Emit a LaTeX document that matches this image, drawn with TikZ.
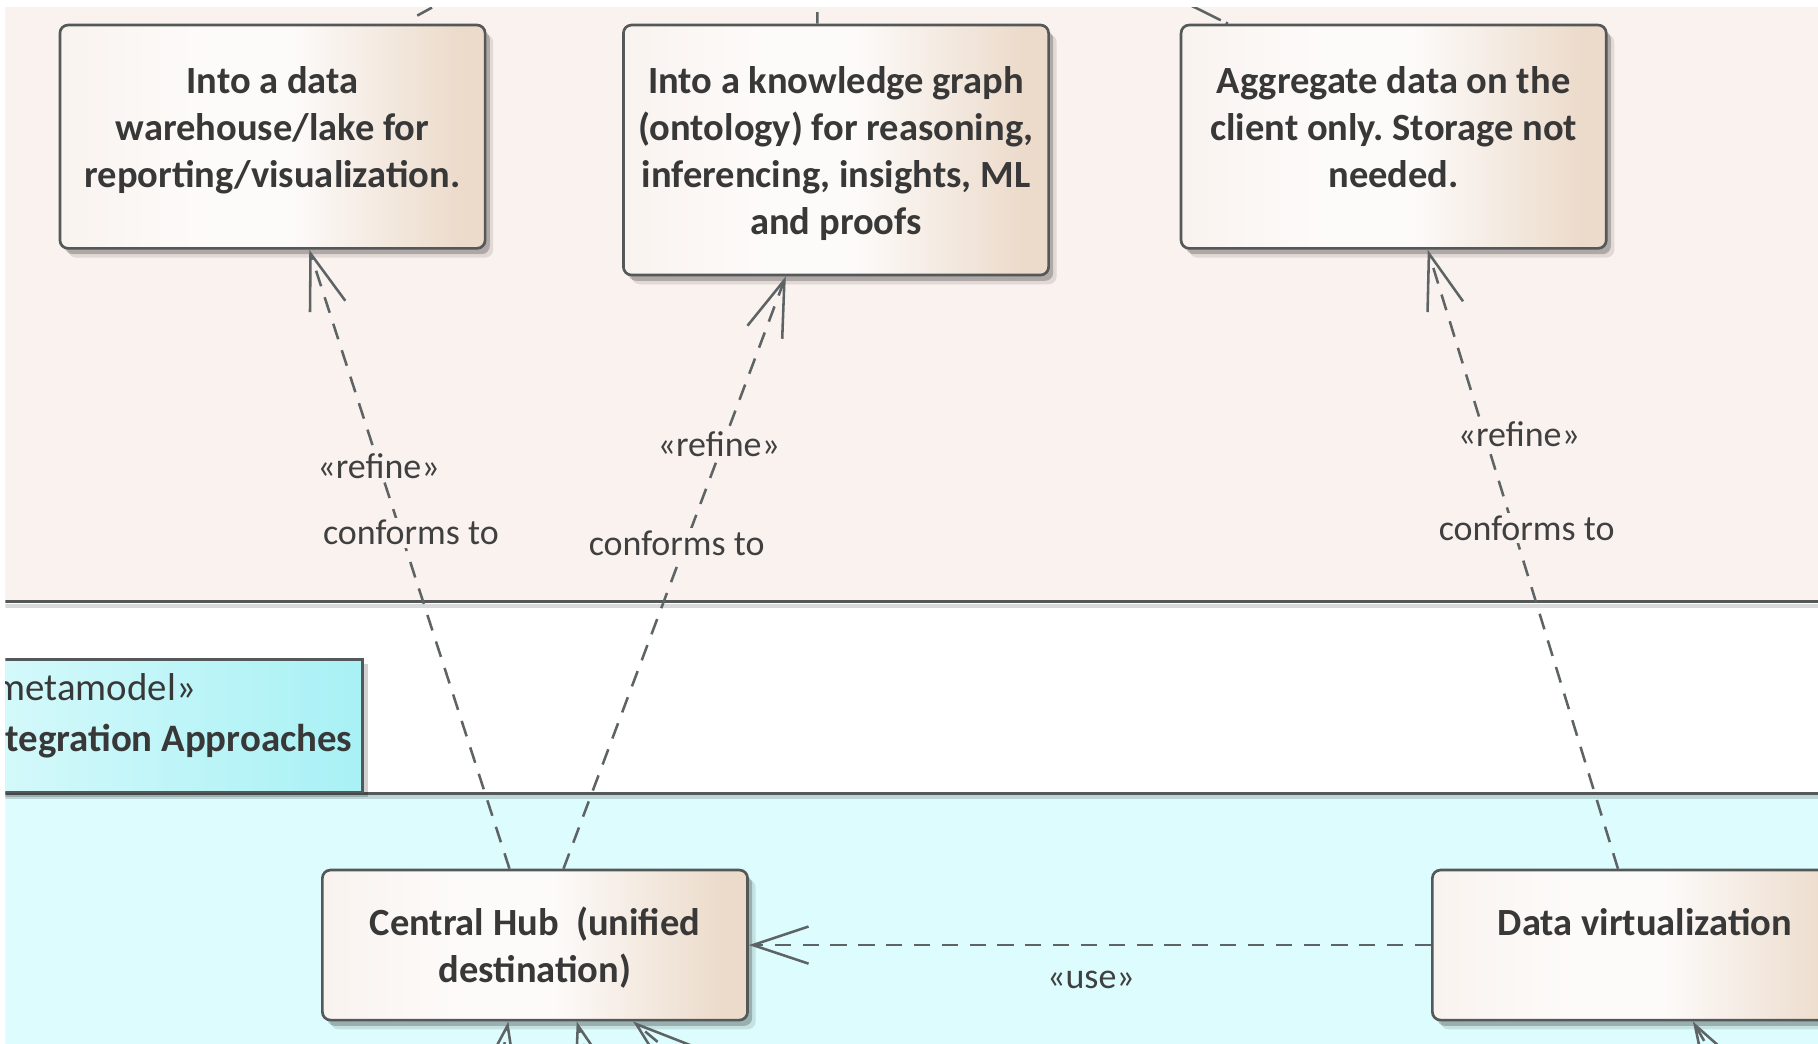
\documentclass[tikz,border=0pt]{standalone}
\usepackage{fontspec}
\setmainfont{Carlito}
\frenchspacing
\usetikzlibrary{arrows.meta,shadows}
\definecolor{pinkbg}{HTML}{FAF2EF}
\definecolor{cyanbg}{HTML}{DCFCFD}
\definecolor{tabL}{HTML}{DAFAFB}
\definecolor{tabR}{HTML}{A8F1F5}
\definecolor{boxL}{HTML}{F9F3EF}
\definecolor{boxM}{HTML}{FDFBFA}
\definecolor{boxR}{HTML}{ECDBCB}
\definecolor{edge}{HTML}{545858}
\definecolor{conn}{HTML}{5E6465}
\definecolor{txt}{HTML}{383838}
\definecolor{lbl}{HTML}{404040}
\pgfdeclarehorizontalshading{boxgrad}{100bp}{color(0bp)=(boxL); color(25bp)=(boxL); color(42bp)=(boxM); color(52bp)=(boxM); color(72bp)=(boxR); color(75bp)=(boxR); color(100bp)=(boxR)}
\pgfdeclarehorizontalshading{tabgrad}{100bp}{color(0bp)=(tabL); color(25bp)=(tabL); color(75bp)=(tabR); color(100bp)=(tabR)}
\begin{document}
\begin{tikzpicture}[x=1pt,y=-1pt,
  box/.style={draw=edge, line width=2.3pt, rounded corners=7pt, shade, shading=boxgrad,
    minimum width=366.7pt, inner sep=0pt,
    drop shadow={shadow xshift=4pt,shadow yshift=-5pt,opacity=0.22,fill=black},
    drop shadow={shadow xshift=7pt,shadow yshift=-8pt,opacity=0.10,fill=black}},
  boxtext/.style={anchor=north, inner sep=0pt, align=center, text=txt,
    font=\fontsize{33.2}{40.5}\selectfont\bfseries},
  lab/.style={anchor=base, inner sep=2pt, text=lbl, font=\fontsize{31}{37}\selectfont},
  dep/.style={draw=conn, line width=2.2pt, dash pattern=on 14pt off 10pt},
  tip/.style={-{Straight Barb[length=48pt,width=32pt,line width=2.2pt]}},
  regline/.style={draw=edge, line width=2.5pt},
  regshadow/.style={draw=black, opacity=0.15, line width=3pt}
]
\useasboundingbox (0,0) rectangle (1568,899.6);
\fill[white] (0,0) rectangle (1568,899.6);
\begin{scope}
\clip (4.7,6.2) rectangle (1568,899.6);
% regions
\fill[pinkbg] (-10,-10) rectangle (1600,519);
\fill[cyanbg] (-10,684) rectangle (1600,950);
\draw[regshadow] (-10,522.5) -- (1600,522.5);
\draw[regline] (-10,519) -- (1600,519);
\draw[regshadow] (-10,687.5) -- (1600,687.5);
\draw[regline] (-10,684) -- (1600,684);
% tab
\path[draw=edge, line width=2.3pt, shade, shading=tabgrad,
  drop shadow={shadow xshift=5pt,shadow yshift=-4pt,opacity=0.18,fill=black}]
  (-40,569) rectangle (312.8,683);
\node[anchor=north west, inner sep=0pt, align=left, text=txt,
  font=\fontsize{33.5}{44.5}\selectfont] (tabtext) at (-22,578.8)
  {\rule{0pt}{25pt}«metamodel»\\\bfseries Integration Approaches};
% boxes
\node[box, minimum height=192.6pt] (b1) at (235.05,117.9) {};
\node[boxtext] (t1) at (235.05,55.5) {\rule{0pt}{25pt}Into a data\\warehouse/lake for\\reporting/visualization.};
\node[box, minimum height=215.6pt] (b2) at (721.05,129.4) {};
\node[boxtext] (t2) at (721.05,55.5) {\rule{0pt}{25pt}Into a knowledge graph\\(ontology) for reasoning,\\inferencing, insights, ML\\and proofs};
\node[box, minimum height=192.6pt] (b3) at (1202,117.9) {};
\node[boxtext] (t3) at (1202,55.5) {\rule{0pt}{25pt}Aggregate data on the\\client only. Storage not\\needed.};
\node[box, minimum height=129.4pt] (hub) at (461.4,815.1) {};
\node[boxtext] (thub) at (461.4,781.5) {\rule{0pt}{25pt}Central Hub\ \ (unified\\destination)};
\node[box, minimum height=129.4pt] (dv) at (1418.75,815.1) {};
\node[boxtext] (tdv) at (1418.75,781.5) {\rule{0pt}{25pt}Data virtualization};
% connectors
\draw[dep, tip] ([xshift=-22pt]hub.north) -- ([xshift=31.7pt]b1.south);
\draw[dep, tip] ([xshift=24.6pt]hub.north) -- ([xshift=-43.3pt]b2.south);
\draw[dep, tip] ([xshift=-23.3pt]dv.north) -- ([xshift=29.4pt]b3.south);
\draw[dep, tip] (dv.west) -- (hub.east);
% connectors leaving the frame
\coordinate (o1) at (401,-9);
\coordinate (o2) at (705,-9);
\coordinate (o3) at (1000.3,-8.6);
\draw[draw=conn, line width=2.2pt, dash pattern=on 0pt off 14.6pt on 14.5pt off 80pt] ([xshift=112pt]b1.north) -- (o1);
\draw[draw=conn, line width=2.2pt, dash pattern=on 10pt off 80pt] ([xshift=-16pt]b2.north) -- (o2);
\draw[draw=conn, line width=2.2pt, dash pattern=on 2pt off 4.75pt on 30pt off 80pt] ([xshift=-143pt]b3.north) -- (o3);
\coordinate (s1) at (425,960);
\coordinate (s2) at (520,960);
\coordinate (s3) at (641,960);
\coordinate (s4) at (1506,960);
\draw[dep, tip] (s1) -- ([xshift=-23pt]hub.south);
\draw[dep, tip] (s2) -- ([xshift=36pt]hub.south);
\draw[dep, tip] (s3) -- ([xshift=84.6pt]hub.south);
\draw[dep, tip] (s4) -- ([xshift=41.3pt]dv.south);
% labels
\node[lab, fill=pinkbg] (r1) at (326.5,412.6) {«refine»};
\node[lab, fill=pinkbg] (c1) at (354.4,470) {conforms to};
\node[lab, fill=pinkbg] (r2) at (620,393.9) {«refine»};
\node[lab, fill=pinkbg] (c2) at (583.6,478.7) {conforms to};
\node[lab, fill=pinkbg] (r3) at (1310,385.3) {«refine»};
\node[lab, fill=pinkbg] (c3) at (1316.7,465.8) {conforms to};
\node[lab] (u1) at (941,852.4) {«use»};
\end{scope}
\end{tikzpicture}
\end{document}
